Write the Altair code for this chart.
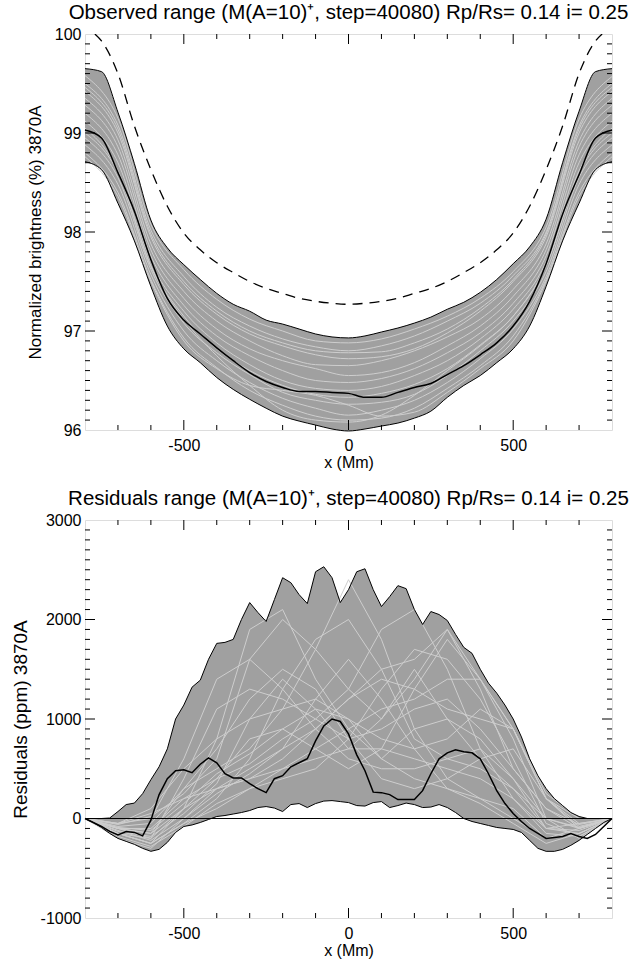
import altair as alt
import pandas as pd

FONT = "Liberation Sans"
W = 527
H1 = 396
H2 = 398

# ---------------- top panel data ----------------
top_x = [-800, -750, -700, -650, -600, -550, -500, -450, -400, -350, -300, -250, -200, -150, -100, -50,
         0, 50, 100, 150, 200, 250, 300, 350, 400, 450, 500, 550, 600, 650, 700, 750, 800]
top_upper = [99.65, 99.62, 99.21, 98.69, 98.12, 97.84, 97.67, 97.52, 97.38, 97.27, 97.20, 97.11, 97.07, 97.02, 96.97, 96.94,
             96.93, 96.95, 96.99, 97.03, 97.08, 97.14, 97.22, 97.29, 97.39, 97.52, 97.68, 97.85, 98.13, 98.70, 99.22, 99.62, 99.65]
top_lower = [98.71, 98.63, 98.29, 97.91, 97.45, 97.05, 96.82, 96.68, 96.53, 96.41, 96.31, 96.22, 96.14, 96.09, 96.05, 96.01,
             95.99, 96.01, 96.04, 96.07, 96.12, 96.19, 96.33, 96.45, 96.55, 96.68, 96.82, 97.05, 97.45, 97.91, 98.29, 98.63, 98.71]
top_median = [99.03, 98.95, 98.60, 98.21, 97.72, 97.33, 97.11, 96.97, 96.83, 96.70, 96.58, 96.49, 96.43, 96.39, 96.39, 96.38,
              96.37, 96.33, 96.33, 96.38, 96.43, 96.47, 96.56, 96.65, 96.76, 96.88, 97.05, 97.30, 97.68, 98.18, 98.58, 98.95, 99.03]

dash_x = [-770, -750, -700, -650, -600, -550, -500, -450, -400, -350, -300, -250, -200, -150, -100, -50,
          0, 50, 100, 150, 200, 250, 300, 350, 400, 450, 500, 550, 600, 650, 700, 750, 770]
dash_v = [100.0, 99.93, 99.60, 99.07, 98.63, 98.26, 97.99, 97.82, 97.69, 97.59, 97.50, 97.43, 97.38, 97.33, 97.30, 97.28,
          97.27, 97.28, 97.30, 97.33, 97.38, 97.43, 97.50, 97.59, 97.69, 97.82, 97.99, 98.26, 98.63, 99.07, 99.60, 99.93, 100.0]

grid_x = [-800, -700, -600, -500, -400, -300, -200, -100, 0, 100, 200, 300, 400, 500, 600, 700, 800]
top_gray = [
    [99.58, 99.15, 98.08, 97.62, 97.32, 97.12, 97.00, 96.90, 96.88, 96.92, 97.02, 97.15, 97.33, 97.60, 98.05, 99.14, 99.57],
    [99.50, 99.08, 98.02, 97.55, 97.24, 97.05, 96.92, 96.84, 96.80, 96.85, 96.95, 97.10, 97.28, 97.56, 98.00, 99.07, 99.50],
    [99.46, 99.04, 97.98, 97.50, 97.20, 97.00, 96.88, 96.80, 96.78, 96.79, 96.88, 97.02, 97.23, 97.52, 97.98, 99.04, 99.46],
    [99.42, 99.00, 97.95, 97.47, 97.17, 96.97, 96.85, 96.76, 96.72, 96.74, 96.82, 96.98, 97.20, 97.50, 97.95, 99.00, 99.42],
    [99.35, 98.93, 97.88, 97.40, 97.10, 96.90, 96.75, 96.66, 96.65, 96.70, 96.80, 96.94, 97.12, 97.42, 97.88, 98.92, 99.35],
    [99.28, 98.86, 97.82, 97.33, 97.02, 96.82, 96.70, 96.62, 96.55, 96.58, 96.68, 96.85, 97.05, 97.35, 97.82, 98.86, 99.28],
    [99.20, 98.78, 97.76, 97.26, 96.95, 96.75, 96.60, 96.50, 96.48, 96.52, 96.62, 96.78, 96.98, 97.28, 97.76, 98.78, 99.20],
    [99.12, 98.70, 97.70, 97.20, 96.88, 96.66, 96.50, 96.42, 96.40, 96.44, 96.55, 96.70, 96.92, 97.22, 97.70, 98.70, 99.12],
    [99.05, 98.62, 97.66, 97.15, 96.82, 96.60, 96.45, 96.36, 96.33, 96.37, 96.46, 96.62, 96.86, 97.15, 97.66, 98.62, 99.05],
    [99.00, 98.60, 97.65, 97.12, 96.75, 96.45, 96.20, 96.10, 96.08, 96.15, 96.35, 96.60, 96.85, 97.15, 97.66, 98.60, 99.00],
    [98.95, 98.55, 97.62, 97.08, 96.78, 96.56, 96.38, 96.30, 96.26, 96.28, 96.36, 96.55, 96.80, 97.10, 97.60, 98.55, 98.95],
    [98.88, 98.48, 97.57, 97.00, 96.70, 96.48, 96.32, 96.22, 96.15, 96.20, 96.30, 96.48, 96.72, 97.02, 97.55, 98.48, 98.88],
    [98.80, 98.40, 97.52, 96.93, 96.63, 96.40, 96.25, 96.14, 96.10, 96.12, 96.22, 96.42, 96.65, 96.95, 97.52, 98.40, 98.80],
    [98.76, 98.36, 97.50, 96.90, 96.62, 96.45, 96.40, 96.35, 96.25, 96.14, 96.18, 96.38, 96.62, 96.90, 97.50, 98.36, 98.76],
]

# ---------------- bottom panel data ----------------
bot_x = [-800, -775, -750, -725, -700, -675, -650, -625, -600, -575, -550, -525, -500, -475, -450, -425,
         -400, -375, -350, -325, -300, -275, -250, -225, -200, -175, -150, -125, -100, -75, -50, -25,
         0, 25, 50, 75, 100, 125, 150, 175, 200, 225, 250, 275, 300, 325, 350, 375,
         400, 425, 450, 475, 500, 525, 550, 575, 600, 625, 650, 675, 700, 725, 750, 775, 800]
bot_upper = [0, 0, 0, 5, 70, 140, 155, 250, 390, 520, 700, 1000, 1140, 1320, 1390, 1600,
             1760, 1770, 1800, 2000, 2170, 2070, 1980, 2200, 2420, 2370, 2250, 2160, 2480, 2530, 2420, 2170,
             2300, 2480, 2510, 2300, 2130, 2230, 2340, 2310, 2100, 1950, 2080, 2050, 1990, 1850, 1720, 1660,
             1500, 1360, 1260, 1140, 1000, 820, 600, 430, 300, 200, 130, 60, 20, 0, 0, 0, 0]
bot_lower = [0, -40, -90, -150, -200, -230, -260, -300, -330, -310, -240, -140, -80, -65, -40, -10,
             20, 30, 45, 60, 80, 110, 120, 105, 70, 140, 150, 110, 150, 175, 180, 170,
             160, 130, 125, 160, 170, 110, 130, 155, 140, 110, 115, 140, 110, 60, 0, -30,
             -50, -70, -90, -100, -110, -140, -220, -300, -330, -330, -310, -270, -220, -160, -100, -40, 0]
bot_median = [0, -40, -80, -130, -165, -130, -140, -175, -17, 240, 400, 480, 490, 460, 545, 610,
              560, 450, 408, 408, 350, 300, 260, 400, 430, 520, 560, 600, 780, 930, 1000, 975,
              850, 640, 480, 265, 260, 240, 190, 190, 190, 280, 450, 600, 660, 690, 670, 660,
              600, 450, 280, 150, 50, -30, -100, -150, -200, -190, -180, -150, -180, -200, -160, -80, 0]

bot_gray = [
    [0, -150, -250, 100, 800, 1900, 2100, 1400, 900, 600, 400, 300, 150, -50, -250, -150, 0],
    [0, -100, -150, 300, 500, 700, 1100, 1700, 2400, 1800, 900, 400, 200, 0, -200, -100, 0],
    [0, -50, 50, 200, 400, 550, 800, 1000, 1300, 1900, 2100, 1500, 700, 200, -100, -50, 0],
    [0, -200, -300, 0, 300, 500, 700, 900, 1200, 1500, 1600, 1900, 1400, 800, 0, -200, 0],
    [0, -150, -200, 400, 1100, 1300, 1200, 1000, 800, 900, 1100, 1200, 900, 500, 100, -100, 0],
    [0, -100, -100, 200, 300, 400, 600, 900, 1200, 1400, 1300, 1100, 1000, 900, 200, -50, 0],
    [0, -150, -250, -50, 200, 600, 1300, 1800, 2000, 1500, 800, 600, 500, 300, -100, -150, 0],
    [0, -50, 0, 600, 1400, 1600, 1300, 900, 600, 500, 500, 600, 700, 400, 0, -100, 0],
    [0, -100, -200, 100, 400, 800, 900, 700, 500, 700, 1300, 1800, 1400, 900, 200, -100, 0],
    [0, -150, -250, -50, 100, 300, 500, 700, 900, 1100, 1200, 1400, 1400, 900, 250, 0, 0],
    [0, -100, -150, 100, 300, 400, 500, 600, 700, 700, 600, 500, 400, 200, -150, -180, 0],
    [0, -50, 100, 500, 800, 1000, 1100, 1200, 1000, 800, 700, 800, 1100, 900, 200, 0, 0],
    [0, -120, -220, 0, 250, 450, 700, 1200, 1600, 1200, 700, 300, 200, 100, -200, -150, 0],
    [0, -80, -50, 300, 700, 1200, 1500, 1300, 800, 400, 300, 400, 600, 700, 200, -80, 0],
    [0, -180, -280, -80, 150, 300, 400, 500, 800, 1300, 1700, 1600, 1200, 600, -50, -180, 0],
    [0, -60, 20, 250, 600, 1600, 2000, 1700, 1300, 1000, 1400, 1900, 1300, 500, 100, -60, 0],
    [0, -90, -120, 150, 450, 650, 900, 1100, 1000, 600, 900, 1000, 800, 400, -100, -120, 0],
    [0, -130, -180, 50, 350, 1000, 1400, 1100, 700, 1000, 1500, 1000, 600, 300, 0, -90, 0],
]

# tick positions
x_major = [-500, 0, 500]
x_minor = [-700, -600, -400, -300, -200, -100, 100, 200, 300, 400, 600, 700]
top_y_major = [97, 98, 99]
top_y_minor = [round(96 + i * 0.1, 1) for i in range(1, 40) if i % 10 != 0]
bot_y_major = [0, 1000, 2000]
bot_y_minor = [-1000 + i * 100 for i in range(1, 40) if i % 10 != 0]

TITLE_TOP = "Observed range (M(A=10)\u207a, step=40080) Rp/Rs= 0.14 i= 0.25"
TITLE_BOT = "Residuals range (M(A=10)\u207a, step=40080) Rp/Rs= 0.14 i= 0.25"

FILL = "#a0a0a0"
LIGHT = "#cecece"
LABEL_EXPR = "datum.value < 0 ? '-' + format(-datum.value, 'd') : format(datum.value, 'd')"


def panel(x, upper, lower, median, gray, ydom, yvals, ymaj, ymin, H, ytitle, ytsize, title, interp, extra=None):
    xs = alt.Scale(domain=[-800, 800], nice=False, zero=False)
    ys = alt.Scale(domain=ydom, nice=False, zero=False)
    band = pd.DataFrame({"x": x, "upper": upper, "lower": lower, "median": median})
    xax = alt.Axis(values=x_major, ticks=False, domain=False, grid=False, labelFont=FONT, labelFontSize=16,
                   labelColor="black", labelPadding=7, labelExpr=LABEL_EXPR, title="x (Mm)", titleFont=FONT,
                   titleFontSize=16, titleFontWeight="normal", titleColor="black", titlePadding=1)
    yax = alt.Axis(values=yvals, ticks=False, domain=False, grid=False, labelFont=FONT, labelFontSize=16,
                   labelColor="black", labelPadding=4, labelExpr=LABEL_EXPR, title=ytitle, titleFont=FONT,
                   titleFontSize=ytsize, titleFontWeight="normal", titleColor="black", titlePadding=10)

    def X(f):
        return alt.X(f, scale=xs, axis=xax)

    def Y(f):
        return alt.Y(f, scale=ys, axis=yax)

    area = alt.Chart(band).mark_area(color=FILL, opacity=1, interpolate=interp).encode(
        x=X("x:Q"), y=Y("upper:Q"), y2="lower:Q")
    rows = []
    for i, g in enumerate(gray):
        for xv, yv in zip(grid_x, g):
            rows.append({"x": xv, "v": yv, "id": i})
    gdf = pd.DataFrame(rows)
    glines = alt.Chart(gdf).mark_line(color=LIGHT, strokeWidth=1, interpolate=interp, clip=True).encode(
        x=X("x:Q"), y=Y("v:Q"), detail="id:N")
    up = alt.Chart(band).mark_line(color="black", strokeWidth=1, interpolate=interp).encode(
        x=X("x:Q"), y=Y("upper:Q"))
    lo = alt.Chart(band).mark_line(color="black", strokeWidth=1, interpolate=interp).encode(
        x=X("x:Q"), y=Y("lower:Q"))
    med = alt.Chart(band).mark_line(color="black", strokeWidth=1.5, interpolate=interp).encode(
        x=X("x:Q"), y=Y("median:Q"))
    layers = [area, glines, up, lo, med]
    if extra is not None:
        layers += extra(X, Y)
    # inward ticks
    for vals, L in ((x_major, 10), (x_minor, 5)):
        t = alt.Chart(pd.DataFrame({"t": vals})).mark_rule(color="black", strokeWidth=1)
        layers.append(t.encode(x=X("t:Q"), y=alt.value(H), y2=alt.value(H - L)))
        layers.append(t.encode(x=X("t:Q"), y=alt.value(0), y2=alt.value(L)))
    for vals, L in ((ymaj, 10), (ymin, 5)):
        t = alt.Chart(pd.DataFrame({"t": vals})).mark_rule(color="black", strokeWidth=1)
        layers.append(t.encode(y=Y("t:Q"), x=alt.value(0), x2=alt.value(L)))
        layers.append(t.encode(y=Y("t:Q"), x=alt.value(W), x2=alt.value(W - L)))
    return alt.layer(*layers).properties(
        width=W, height=H,
        title=alt.TitleParams(title, font=FONT, fontSize=20.5, fontWeight="normal", color="black",
                              anchor="middle", frame="group", offset=3),
    )


def top_extra(X, Y):
    d = pd.DataFrame({"x": dash_x, "v": dash_v})
    return [alt.Chart(d).mark_line(color="black", strokeWidth=1.3, strokeDash=[10, 7], interpolate="monotone",
                                   clip=True).encode(x=X("x:Q"), y=Y("v:Q"))]


def bot_extra(X, Y):
    d = pd.DataFrame({"z": [0]})
    return [alt.Chart(d).mark_rule(color="black", strokeWidth=1).encode(
        y=Y("z:Q"), x=alt.value(0), x2=alt.value(W))]


top = panel(top_x, top_upper, top_lower, top_median, top_gray, [96, 100], [96, 97, 98, 99, 100],
            top_y_major, top_y_minor, H1, "Normalized brightness (%) 3870A", 17, TITLE_TOP, "monotone", top_extra)
bot = panel(bot_x, bot_upper, bot_lower, bot_median, bot_gray, [-1000, 3000], [-1000, 0, 1000, 2000, 3000],
            bot_y_major, bot_y_minor, H2, "Residuals (ppm)  3870A", 19, TITLE_BOT, "linear", bot_extra)

chart = alt.vconcat(top, bot, spacing=17).properties(
    padding={"left": 10, "top": 2, "right": 0, "bottom": 0}
).configure_view(stroke="black", strokeWidth=1).configure(background="white")

chart.save("out.html", embed_options={"renderer": "svg", "actions": False})
